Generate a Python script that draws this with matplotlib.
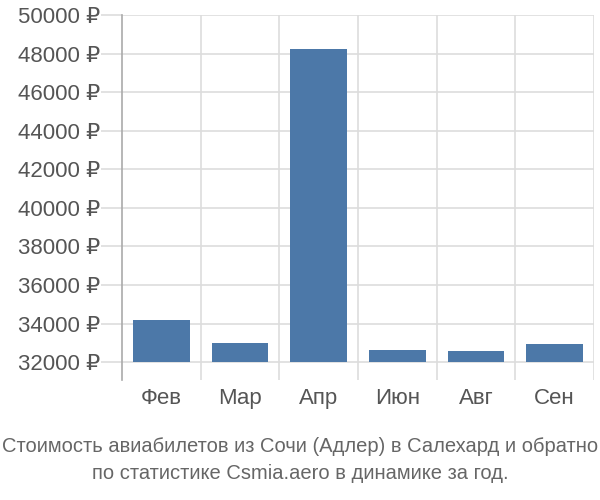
import matplotlib.pyplot as plt
import numpy as np

# data to plot
months = ['Фев', 'Мар', 'Апр', 'Июн', 'Авг', 'Сен']
prices = [34170, 32980, 48220, 32620, 32570, 32950]
y_ticks = list(range(32000, 50001, 2000))
base = 32000

plt.rcParams['font.family'] = ['Liberation Sans', 'DejaVu Sans']

fig = plt.figure(figsize=(6, 5), dpi=100)
ax = fig.add_axes([0.2033, 0.24, 0.7867, 0.73])

index = np.arange(len(months))
heights = [p - base for p in prices]
ax.bar(index, heights, 0.72, bottom=base, color='#4c78a8', zorder=3)

ax.set_xlim(-0.5, len(months) - 0.5)
ax.set_ylim(31070, 50000)

# horizontal grid at tick values, vertical grid at category boundaries
ax.set_yticks(y_ticks)
ax.set_yticklabels([f'{v} ₽' for v in y_ticks])
for v in y_ticks:
    ax.axhline(v, color='#dddddd', lw=1.2, zorder=1)
for b in np.arange(0.5, len(months), 1.0):
    ax.axvline(b, color='#dddddd', lw=1.2, zorder=1)

ax.set_xticks(index)
ax.set_xticklabels(months)

for s in ['top', 'right', 'bottom']:
    ax.spines[s].set_visible(False)
ax.spines['left'].set_color('#aaaaaa')
ax.spines['left'].set_linewidth(1.2)

ax.tick_params(axis='y', length=15, color='#dddddd', width=1.2,
               labelsize=16, labelcolor='#555555', pad=1)
ax.tick_params(axis='x', length=0, labelsize=16, labelcolor='#555555', pad=6)

fig.text(0.5, 0.107, 'Стоимость авиабилетов из Сочи (Адлер) в Салехард и обратно',
         ha='center', va='center', fontsize=14.5, color='#666666')
fig.text(0.5, 0.053, 'по статистике Csmia.aero в динамике за год.',
         ha='center', va='center', fontsize=14.5, color='#666666')

# save as image
plt.savefig('out.png')
